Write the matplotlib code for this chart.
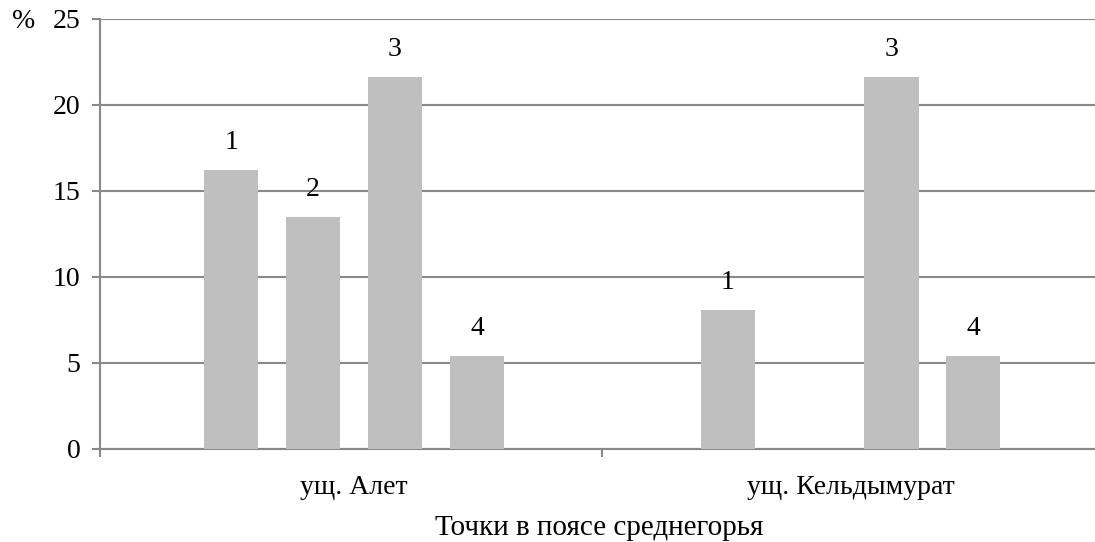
import numpy as np
import matplotlib
matplotlib.use("Agg")
import matplotlib.pyplot as plt

plt.rcParams["font.family"] = "serif"
plt.rcParams["font.serif"] = ["Liberation Serif", "DejaVu Serif"]

# data
categories = ["ущ. Алет", "ущ. Кельдымурат"]
points = ["1", "2", "3", "4"]
values = {
    "1": [16.2, 8.1],
    "2": [13.5, 0.0],
    "3": [21.6, 21.6],
    "4": [5.4, 5.4],
}
yticks = [0, 5, 10, 15, 20, 25]

W, H = 1095, 542
fig = plt.figure(figsize=(W / 100, H / 100), dpi=100)
ax = fig.add_axes([100 / W, 93 / H, 995 / W, 430 / H])

GRID = "#898989"
BAR = "#BFBFBF"
FS = 20

x = np.arange(len(categories))
slot, width = 0.165, 0.109
for i, p in enumerate(points):
    xs = x + (i - 1.5) * slot
    vals = values[p]
    ax.bar(xs, vals, width=width, color=BAR, zorder=3)
    for xx, v in zip(xs, vals):
        if v > 0:   # point 2 has no bar in the second gorge
            ax.text(xx, v + 1.6, p, ha="center", va="center", fontsize=FS)

xmin = -0.5116
ax.set_xlim(xmin, xmin + 995 / 496.5)
ax.set_ylim(0, 25)
ax.set_yticks(yticks)
ax.set_yticklabels([str(t) for t in yticks], fontsize=FS)
ax.yaxis.grid(True, color=GRID, lw=1.5, zorder=0)
ax.set_axisbelow(True)

# category ticks sit on the group boundaries, names at the centres
ax.set_xticks([xmin, 0.5])
ax.set_xticklabels([])
ax.set_xticks(x, minor=True)
ax.set_xticklabels(categories, minor=True, fontsize=FS)
ax.tick_params(axis="x", which="minor", length=0, pad=18.5)
ax.tick_params(axis="x", which="major", length=6, width=1.5, color=GRID)
ax.tick_params(axis="y", length=6, width=1.5, color=GRID, pad=8)

for s in ["top", "right"]:
    ax.spines[s].set_visible(False)
for s in ["left", "bottom"]:
    ax.spines[s].set_color(GRID)
    ax.spines[s].set_linewidth(1.5)

ax.set_xlabel("Точки в поясе среднегорья", fontsize=21)
ax.xaxis.label.set_verticalalignment("baseline")
ax.xaxis.set_label_coords((599 - 100) / 995, -(535 - 449) / 430)
fig.text(12 / W, 1 - 22 / H, "%", fontsize=FS, va="center", ha="left")

fig.savefig("out.png", dpi=100)
